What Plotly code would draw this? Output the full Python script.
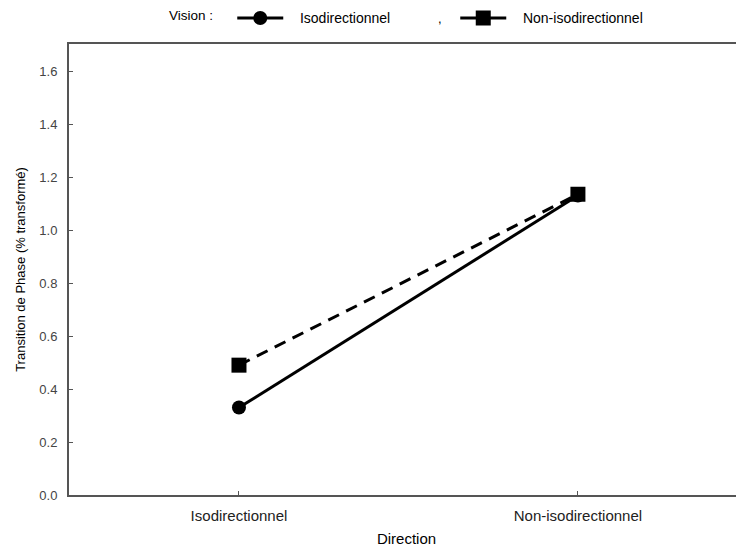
import plotly.graph_objects as go

categories = ["Isodirectionnel", "Non-isodirectionnel"]
x_pos = [0, 1]
iso_values = [0.33, 1.13]
noniso_values = [0.49, 1.135]
y_ticks = [0.0, 0.2, 0.4, 0.6, 0.8, 1.0, 1.2, 1.4, 1.6]
y_ticklabels = ["0.0", "0.2", "0.4", "0.6", "0.8", "1.0", "1.2", "1.4", "1.6"]
legend_names = ["\u00a0\u00a0\u00a0Isodirectionnel", "\u00a0\u00a0\u00a0Non-isodirectionnel"]

FONT = "Liberation Sans, Arial, sans-serif"

fig = go.Figure()
fig.add_trace(go.Scatter(
    x=x_pos, y=iso_values, name=legend_names[0], mode="lines+markers",
    line=dict(color="black", width=3),
    marker=dict(symbol="circle", size=14, color="black"),
    legendgroup="iso",
))
fig.add_trace(go.Scatter(
    x=x_pos, y=noniso_values, name=legend_names[1], mode="lines+markers",
    line=dict(color="black", width=3, dash="12px,8px"),
    marker=dict(symbol="square", size=15, color="black"),
    legendgroup="noniso", showlegend=False,
))
# legend entry for the non-iso series (solid symbol line, as in the reference legend)
fig.add_trace(go.Scatter(
    x=[None], y=[None], name=legend_names[1], mode="lines+markers",
    line=dict(color="black", width=3),
    marker=dict(symbol="square", size=15, color="black"),
    legendgroup="noniso", hoverinfo="skip",
))
# invisible trace for right-side tick marks
fig.add_trace(go.Scatter(x=[None], y=[None], yaxis="y2", showlegend=False, hoverinfo="skip"))

fig.update_layout(
    width=736, height=546,
    margin=dict(l=61, r=0, t=36, b=59),
    paper_bgcolor="white", plot_bgcolor="white",
    font=dict(family=FONT, size=13, color="black"),
    showlegend=True,
    legend=dict(
        orientation="h", xref="container", yref="container",
        x=0.216, y=0.981, xanchor="left", yanchor="middle",
        title=dict(text="Vision :\u00a0\u00a0\u00a0", font=dict(size=13.5), side="left"),
        font=dict(size=14), itemwidth=46, entrywidth=162, entrywidthmode="pixels",
        bgcolor="rgba(0,0,0,0)", tracegroupgap=0,
    ),
    xaxis=dict(
        range=[-0.5015, 1.49], tickvals=x_pos, ticktext=categories,
        showgrid=False, zeroline=False, showline=True, linecolor="#555555",
        linewidth=2, mirror=True, ticks="inside", ticklen=4, tickcolor="#555555",
        tickfont=dict(size=15, color="#222222"), ticklabelstandoff=6,
        title=dict(text="Direction", font=dict(size=15), standoff=10),
    ),
    yaxis=dict(
        range=[0, 1.702], tickvals=y_ticks, ticktext=y_ticklabels,
        showgrid=False, zeroline=False, showline=True, linecolor="#555555",
        linewidth=2, ticks="inside", ticklen=4, tickcolor="#555555",
        tickfont=dict(size=13, color="#444444"), ticklabelstandoff=7,
        title=dict(text="Transition de Phase (% transformé)", font=dict(size=13), standoff=11),
    ),
    yaxis2=dict(
        overlaying="y", side="right", range=[0, 1.702], tickvals=y_ticks,
        showticklabels=False, showgrid=False, zeroline=False, showline=False,
        ticks="inside", ticklen=3, tickcolor="#bbbbbb",
    ),
)

fig.add_annotation(
    text=",", xref="paper", yref="paper", x=(440 - 69) / 675, y=1 + (44 - 18) / 451,
    showarrow=False, font=dict(size=13, color="black"), xanchor="center", yanchor="middle",
)

fig.write_html("out.html")
